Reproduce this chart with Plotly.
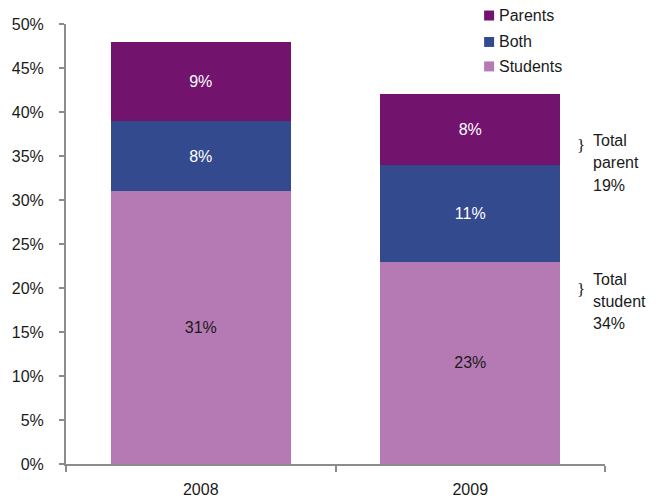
import plotly.graph_objects as go

# Share of respondents by who reported, per survey year
years = ["2008", "2009"]
students = [31, 23]
both = [8, 11]
parents = [9, 8]

series_names = ["Students", "Both", "Parents"]
series_colors = ["#B57AB4", "#344A8E", "#72136E"]
text_colors = ["#1a1a1a", "#ffffff", "#ffffff"]

W, H = 657, 504
ML, MR, MT, MB = 65.5, 52, 23.5, 39.5
FONT = "Liberation Sans, Arial, sans-serif"
FS = 16


def py(pix):
    """Convert a pixel row (from the top of the page) to paper y."""
    return (H - MB - pix) / (H - MT - MB)


def px(pix):
    """Convert a pixel column to paper x."""
    return (pix - ML) / (W - ML - MR)


fig = go.Figure()
for name, vals, color, tcol in zip(series_names, [students, both, parents], series_colors, text_colors):
    fig.add_trace(go.Bar(
        x=years, y=vals, name=name,
        marker=dict(color=color, line=dict(width=0)),
        text=[f"{v}%" for v in vals],
        textposition="inside", insidetextanchor="middle",
        textangle=0, constraintext="none",
        textfont=dict(family=FONT, size=FS, color=tcol),
        showlegend=False, hoverinfo="skip",
    ))

# Legend: small swatches with labels, top to bottom
legend_rows = [("Parents", series_colors[2], 15), ("Both", series_colors[1], 41.5), ("Students", series_colors[0], 66)]
shapes = []
annotations = []
for label, color, cy in legend_rows:
    shapes.append(dict(type="rect", xref="paper", yref="paper",
                       x0=px(484), x1=px(494), y0=py(cy + 5), y1=py(cy - 5),
                       fillcolor=color, line=dict(width=0)))
    annotations.append(dict(text=label, xref="paper", yref="paper",
                            x=px(497), y=py(cy), xanchor="left", yanchor="middle",
                            showarrow=False, font=dict(family=FONT, size=FS, color="#1a1a1a")))

# Totals for 2009 beside the bar
total_parent = parents[1] + both[1]
total_student = students[1] + both[1]
blocks = [
    (145, [("Total", 140.5), ("parent", 162.5), (f"{total_parent}%", 185)]),
    (290, [("Total", 279.5), ("student", 301.5), (f"{total_student}%", 323.5)]),
]
for brace_y, lines in blocks:
    annotations.append(dict(text="}", xref="paper", yref="paper",
                            x=px(580.5), y=py(brace_y), xanchor="center", yanchor="middle",
                            showarrow=False, font=dict(family="Liberation Serif, serif", size=17, color="#1a1a1a")))
    for txt, ly in lines:
        annotations.append(dict(text=txt, xref="paper", yref="paper",
                                x=px(591), y=py(ly), xanchor="left", yanchor="middle",
                                showarrow=False, font=dict(family=FONT, size=FS, color="#1a1a1a")))

fig.update_layout(
    barmode="stack",
    bargap=0.332,
    width=W, height=H,
    margin=dict(l=ML, r=MR, t=MT, b=MB, pad=0),
    paper_bgcolor="white", plot_bgcolor="white",
    font=dict(family=FONT, size=FS, color="#1a1a1a"),
    shapes=shapes,
    annotations=annotations,
    xaxis=dict(
        type="category", showline=True, linecolor="#8c8c8c", linewidth=2,
        ticks="outside", tickson="boundaries", ticklen=6, tickwidth=2, tickcolor="#8c8c8c",
        ticklabelstandoff=10, showgrid=False, zeroline=False, automargin=False,
        tickfont=dict(family=FONT, size=FS, color="#1a1a1a"),
    ),
    yaxis=dict(
        range=[0, 50], dtick=5, ticksuffix="%",
        showline=True, linecolor="#8c8c8c", linewidth=2,
        ticks="outside", ticklen=5, tickwidth=2, tickcolor="#8c8c8c",
        ticklabelstandoff=12, showgrid=False, zeroline=False, automargin=False,
        tickfont=dict(family=FONT, size=FS, color="#1a1a1a"),
    ),
)

fig.write_html("out.html")
